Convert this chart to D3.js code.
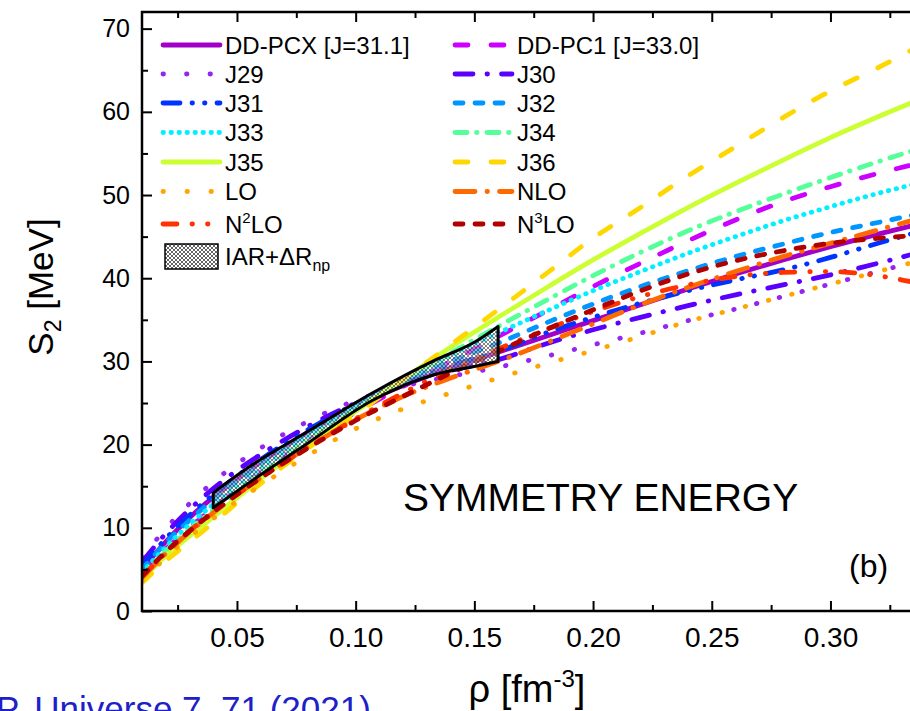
<!DOCTYPE html>
<html>
<head>
<meta charset="utf-8">
<script src="https://cdn.jsdelivr.net/npm/d3@7"></script>
<style>
  body { margin: 0; background: #fff; }
  text { font-family: "Liberation Sans", Arial, sans-serif; fill: #000; }
</style>
</head>
<body>
<svg id="chart" width="910" height="711"></svg>
<script>
// density grid [fm^-3] and S2 values [MeV]
const rho = [0.01, 0.02, 0.03, 0.04, 0.05, 0.06, 0.08, 0.10, 0.12, 0.14, 0.16, 0.18, 0.20, 0.22, 0.24, 0.26, 0.28, 0.30, 0.32, 0.34]

const ddpcx = [5.0, 8.3, 11.2, 13.7, 15.9, 17.9, 21.5, 24.6, 27.1, 29.2, 31.1, 33.0, 34.9, 36.8, 38.7, 40.5, 42.2, 43.8, 45.3, 46.7]
const ddpc1 = [4.4, 7.4, 10.0, 12.4, 14.6, 16.7, 20.5, 23.9, 27.0, 30.0, 33.0, 36.0, 39.0, 41.8, 44.5, 47.0, 49.2, 51.0, 52.6, 54.0]
const j29 = [6.4, 9.9, 12.9, 15.5, 17.7, 19.6, 22.8, 25.3, 27.0, 28.2, 29.3, 30.6, 32.0, 33.4, 34.9, 36.3, 37.8, 39.3, 40.8, 42.3]
const j30 = [5.9, 9.3, 12.2, 14.7, 16.9, 18.8, 22.2, 25.0, 27.3, 28.9, 30.2, 32.1, 33.8, 35.3, 36.7, 38.0, 39.2, 40.4, 41.8, 43.3]
const j31 = [5.4, 8.7, 11.5, 14.0, 16.2, 18.2, 21.8, 24.9, 27.5, 29.5, 31.2, 33.4, 35.3, 37.0, 38.5, 39.8, 41.0, 42.5, 44.2, 45.8]
const j32 = [5.0, 8.2, 10.9, 13.4, 15.6, 17.7, 21.4, 24.7, 27.6, 30.0, 32.2, 34.6, 36.9, 39.0, 40.9, 42.6, 44.1, 45.5, 46.7, 47.9]
const j33 = [4.6, 7.7, 10.4, 12.8, 15.0, 17.1, 21.0, 24.5, 27.7, 30.7, 33.4, 36.0, 38.5, 40.8, 43.0, 45.0, 46.9, 48.6, 50.2, 51.6]
const j34 = [4.2, 7.2, 9.8, 12.1, 14.3, 16.5, 20.5, 24.2, 27.7, 31.0, 34.2, 37.3, 40.3, 43.1, 45.7, 48.0, 50.1, 52.1, 54.0, 55.8]
const j35 = [3.8, 6.6, 9.0, 11.3, 13.6, 15.9, 20.1, 24.0, 27.9, 31.7, 35.3, 38.8, 42.2, 45.4, 48.5, 51.4, 54.2, 56.9, 59.4, 61.8]
const j36 = [3.4, 6.0, 8.3, 10.6, 13.0, 15.3, 19.6, 23.6, 27.8, 32.0, 36.2, 40.5, 44.8, 48.5, 52.3, 55.8, 59.3, 62.5, 65.3, 68.3]
const lo = [3.6, 6.4, 8.9, 11.1, 13.2, 15.1, 18.7, 21.9, 24.3, 26.2, 28.0, 29.7, 31.3, 33.0, 34.8, 36.3, 37.8, 39.3, 40.8, 42.3]
const nlo = [4.0, 6.9, 9.5, 11.8, 14.0, 16.0, 19.7, 23.0, 25.8, 28.0, 30.0, 32.2, 34.5, 36.8, 38.9, 40.8, 42.6, 44.2, 45.8, 47.4]
const n2lo = [4.1, 7.0, 9.6, 11.9, 14.0, 16.0, 19.7, 23.1, 26.2, 29.0, 31.5, 33.8, 36.0, 37.8, 39.2, 40.2, 40.7, 40.8, 40.3, 39.2]
const n3lo = [4.2, 7.1, 9.6, 11.9, 14.0, 16.0, 19.6, 22.9, 25.8, 28.6, 31.2, 33.8, 36.2, 38.5, 40.5, 42.1, 43.3, 44.2, 44.8, 45.2]

// IAR + dRnp constraint band
const iarRho = [0.04, 0.055, 0.08, 0.107, 0.133, 0.15, 0.16]
const iarUpper = [14.2, 17.3, 21.6, 26.2, 30.1, 32.3, 34.2]
const iarLower = [12.4, 15.4, 20.2, 25.3, 28.4, 29.4, 30.0]

const xMajor = [0.05, 0.10, 0.15, 0.20, 0.25, 0.30]
const xMinor = [0.025, 0.075, 0.125, 0.175, 0.225, 0.275, 0.325]
const yMajor = [0, 10, 20, 30, 40, 50, 60, 70]
const yMinor = [5, 15, 25, 35, 45, 55, 65]

// series table: name, values, colour, dash, legend column/row
const series = [
    { key: "ddpcx", label: "DD-PCX [J=31.1]", v: ddpcx, color: "#a200c8", dash: null, col: 0, row: 0 },
    { key: "ddpc1", label: "DD-PC1 [J=33.0]", v: ddpc1, color: "#cc00ff", dash: "13,23", col: 1, row: 0 },
    { key: "j29", label: "J29", v: j29, color: "#9426f0", dash: "0.5,23", col: 0, row: 1 },
    { key: "j30", label: "J30", v: j30, color: "#5a00ff", dash: "18,14,0.5,14", col: 1, row: 1 },
    { key: "j31", label: "J31", v: j31, color: "#0033ff", dash: "17,12,0.5,12,0.5,12", col: 0, row: 2 },
    { key: "j32", label: "J32", v: j32, color: "#0096ff", dash: "8,12", col: 1, row: 2 },
    { key: "j33", label: "J33", v: j33, color: "#00f0ff", dash: "0.5,7.5", col: 0, row: 3 },
    { key: "j34", label: "J34", v: j34, color: "#55ff99", dash: "12,9.5,0.5,10", col: 1, row: 3 },
    { key: "j35", label: "J35", v: j35, color: "#ccff33", dash: null, col: 0, row: 4 },
    { key: "j36", label: "J36", v: j36, color: "#ffd700", dash: "13,23", col: 1, row: 4 },
    { key: "lo", label: "LO", v: lo, color: "#ffa500", dash: "0.5,23.5", col: 0, row: 5 },
    { key: "nlo", label: "NLO", v: nlo, color: "#ff6a00", dash: "20,12,0.5,12", col: 1, row: 5 },
    { key: "n2lo", label: "N<2>LO", v: n2lo, color: "#ff3300", dash: "14,15,0.5,15,0.5,15", col: 0, row: 6 },
    { key: "n3lo", label: "N<3>LO", v: n3lo, color: "#b00000", dash: "8,12", col: 1, row: 6 }
]

const plot = { left: 142, top: 12, bottom: 611, right: 910 }

const x = d3.scaleLinear().domain([0.01, 0.34]).range([plot.left, plot.left + 0.33 * 2374])
const y = d3.scaleLinear().domain([0, 72]).range([plot.bottom, plot.top])

const svg = d3.select("#chart")
const defs = svg.append("defs")

defs.append("clipPath").attr("id", "clip")
    .append("rect")
    .attr("x", plot.left).attr("y", plot.top)
    .attr("width", plot.right - plot.left).attr("height", plot.bottom - plot.top)

// crosshatch pattern for the IAR band
const pat = defs.append("pattern").attr("id", "hatch")
    .attr("patternUnits", "userSpaceOnUse").attr("width", 4).attr("height", 4)
pat.append("path").attr("d", "M0,0 L4,4 M4,0 L0,4")
    .attr("stroke", "#555").attr("stroke-width", 0.9)
pat.append("circle").attr("cx", 2).attr("cy", 0).attr("r", 0.8).attr("fill", "#fff")
pat.append("circle").attr("cx", 0).attr("cy", 2).attr("r", 0.8).attr("fill", "#fff")
pat.append("circle").attr("cx", 4).attr("cy", 2).attr("r", 0.8).attr("fill", "#fff")
pat.append("circle").attr("cx", 2).attr("cy", 4).attr("r", 0.8).attr("fill", "#fff")

// curves
const line = d3.line()
    .x((d, i) => x(rho[i]))
    .y(d => y(d))
    .curve(d3.curveMonotoneX)

const gLines = svg.append("g").attr("clip-path", "url(#clip)")
series.forEach(s => {
    gLines.append("path")
        .attr("d", line(s.v))
        .attr("fill", "none")
        .attr("stroke", s.color)
        .attr("stroke-width", 4.8)
        .attr("stroke-linecap", "round")
        .attr("stroke-dasharray", s.dash)
})

// IAR band
const band = d3.area()
    .x((d, i) => x(iarRho[i]))
    .y0((d, i) => y(iarLower[i]))
    .y1(d => y(d))
    .curve(d3.curveMonotoneX)

svg.append("path")
    .attr("d", band(iarUpper))
    .attr("fill", "url(#hatch)")
    .attr("fill-opacity", 0.8)
    .attr("stroke", "#000")
    .attr("stroke-width", 3)
    .attr("stroke-linejoin", "round")

// axes
function xAxis(g, ticks, size, labels) {
    g.call(d3.axisBottom(x).tickValues(ticks).tickSize(size).tickPadding(16)
        .tickFormat(labels ? d3.format(".2f") : ""))
    g.select(".domain").remove()
    g.selectAll("line").attr("stroke", "#000").attr("stroke-width", 2)
    g.selectAll("text").attr("font-size", 28).attr("font-family", "Liberation Sans, Arial, sans-serif")
}
svg.append("g").attr("transform", `translate(0,${plot.bottom})`).call(xAxis, xMajor, -10, true)
svg.append("g").attr("transform", `translate(0,${plot.bottom})`).call(xAxis, xMinor, -6, false)
svg.append("g").attr("transform", `translate(0,${plot.top})`).call(g => {
    g.call(d3.axisTop(x).tickValues(xMajor).tickSize(-10).tickFormat(""))
    g.select(".domain").remove()
    g.selectAll("line").attr("stroke", "#000").attr("stroke-width", 2)
})
svg.append("g").attr("transform", `translate(0,${plot.top})`).call(g => {
    g.call(d3.axisTop(x).tickValues(xMinor).tickSize(-6).tickFormat(""))
    g.select(".domain").remove()
    g.selectAll("line").attr("stroke", "#000").attr("stroke-width", 2)
})

function yAxis(g, ticks, size, labels) {
    g.call(d3.axisLeft(y).tickValues(ticks).tickSize(size).tickPadding(12)
        .tickFormat(labels ? d3.format("d") : ""))
    g.select(".domain").remove()
    g.selectAll("line").attr("stroke", "#000").attr("stroke-width", 2)
    g.selectAll("text").attr("font-size", 25).attr("font-family", "Liberation Sans, Arial, sans-serif")
}
svg.append("g").attr("transform", `translate(${plot.left},0)`).call(yAxis, yMajor, -10, true)
svg.append("g").attr("transform", `translate(${plot.left},0)`).call(yAxis, yMinor, -6, false)

// frame
svg.append("path")
    .attr("d", `M${plot.right + 2},${plot.top} H${plot.left} V${plot.bottom} H${plot.right + 2}`)
    .attr("fill", "none").attr("stroke", "#000").attr("stroke-width", 2.5)

// legend
const legX = [163, 455], legTextX = [225, 517]
const legY = [45, 74, 103, 132.5, 162, 191.5, 224]
const leg = svg.append("g")
series.forEach(s => {
    const yy = legY[s.row]
    leg.append("line")
        .attr("x1", legX[s.col]).attr("x2", legX[s.col] + 57)
        .attr("y1", yy).attr("y2", yy)
        .attr("stroke", s.color).attr("stroke-width", 4.8)
        .attr("stroke-linecap", "round")
        .attr("stroke-dasharray", s.dash)
    const t = leg.append("text")
        .attr("x", legTextX[s.col]).attr("y", yy + 8.5)
        .attr("font-size", 24)
    const m = s.label.match(/^(.*)<(.)>(.*)$/)
    if (m) {
        t.append("tspan").text(m[1])
        t.append("tspan").attr("font-size", 15).attr("dy", -10).text(m[2])
        t.append("tspan").attr("dy", 10).text(m[3])
    } else {
        t.text(s.label)
    }
})
// band legend entry
leg.append("rect").attr("x", 165).attr("y", 244).attr("width", 53).attr("height", 25)
    .attr("fill", "#fff")
leg.append("rect").attr("x", 165).attr("y", 244).attr("width", 53).attr("height", 25)
    .attr("fill", "url(#hatch)").attr("stroke", "#000").attr("stroke-width", 1.5)
const tb = leg.append("text").attr("x", 225).attr("y", 265).attr("font-size", 24)
tb.append("tspan").text("IAR+\u0394R")
tb.append("tspan").attr("font-size", 16).attr("dy", 6).text("np")

// annotations
svg.append("text").attr("x", 403).attr("y", 511).attr("font-size", 39).text("SYMMETRY ENERGY")
svg.append("text").attr("x", 849).attr("y", 577).attr("font-size", 32).text("(b)")

// axis titles
const yt = svg.append("text")
    .attr("transform", "translate(53,287) rotate(-90)")
    .attr("text-anchor", "middle").attr("font-size", 35)
yt.append("tspan").text("S")
yt.append("tspan").attr("font-size", 23).attr("dy", 8).text("2")
yt.append("tspan").attr("dy", -8).text(" [MeV]")

const xt = svg.append("text")
    .attr("x", 527).attr("y", 702)
    .attr("text-anchor", "middle").attr("font-size", 38)
xt.append("tspan").text("\u03c1 [fm")
xt.append("tspan").attr("font-size", 24).attr("dy", -15).text("-3")
xt.append("tspan").attr("dy", 15).text("]")

// source note, cut by the page edge
svg.append("text").attr("x", -4).attr("y", 721).attr("font-size", 35)
    .attr("fill", "#2020c8").style("fill", "#2020c8")
    .text("P. Universe 7, 71 (2021)")
</script>
</body>
</html>
